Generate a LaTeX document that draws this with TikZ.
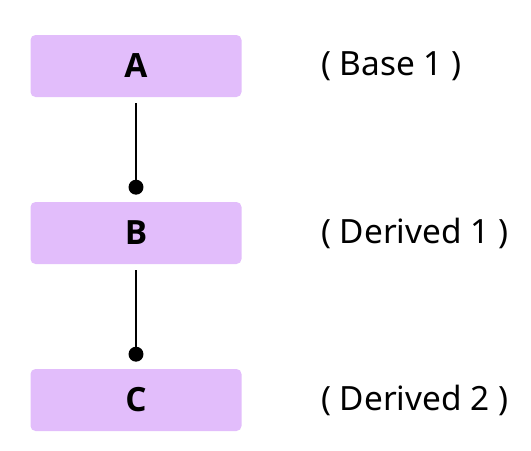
\documentclass[tikz,border=0pt]{standalone}
\usepackage{fontspec}
\setmainfont{Noto Sans}
\newfontfamily\clsfont{Open Sans}
\usetikzlibrary{positioning}
\usetikzlibrary{shapes,arrows.meta}
\definecolor{boxfill}{RGB}{226,189,251}

\begin{document}
\begin{tikzpicture}
		\useasboundingbox (0,0) rectangle (10.62,-9);
		\tikzset{cls/.style={fill=boxfill,rounded corners=0.1cm,minimum width=4.22cm,minimum height=1.24cm,font=\clsfont\fontsize{19}{22}\selectfont\bfseries},
			note/.style={right,font=\fontsize{19}{22}\selectfont},
			link/.style={line width=1.1pt,-{Circle[length=8.5pt]},shorten <=0.12cm,shorten >=0.14cm}}
		\node[cls] (A) at (2.72,-1.32) {A};
		\node[cls] (B) at (2.72,-4.66) {B};
		\node[cls] (C) at (2.72,-8.0) {C};
		\node[note] (nA) at (6.3,-1.32) {( Base 1 )};
		\node[note] (nB) at (6.3,-4.66) {( Derived 1 )};
		\node[note] (nC) at (6.3,-8.0) {( Derived 2 )};
		
		\draw[link] (A) -- (B);
		\draw[link] (B) -- (C);
	\end{tikzpicture}
\end{document}
